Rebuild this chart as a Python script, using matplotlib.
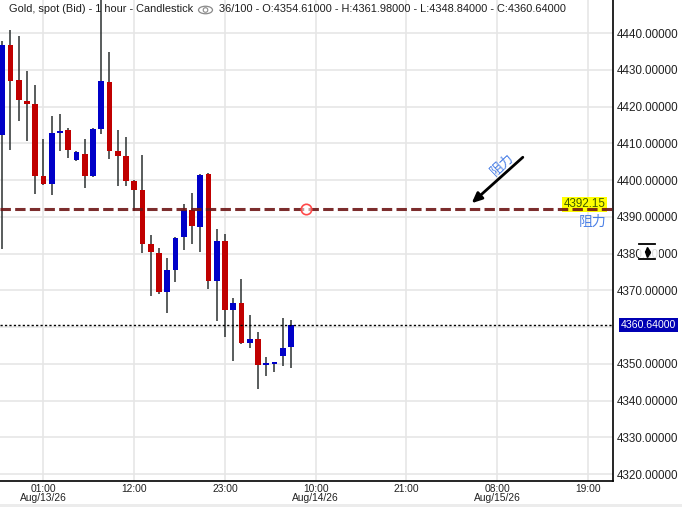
import matplotlib
matplotlib.use("Agg")
import matplotlib.pyplot as plt
import matplotlib.patches as mpatches
import matplotlib.transforms as mtransforms
import numpy as np

plt.rcParams['font.family'] = ['Liberation Sans', 'DejaVu Sans']

# ---- data (hourly candles, first = Aug 12 20:00) ----
opens  = [4412.3, 4436.7, 4427.2, 4421.5, 4420.7, 4401.1, 4399.0, 4412.8, 4413.6, 4405.5,
          4407.1, 4401.0, 4414.0, 4426.7, 4407.9, 4406.5, 4399.7, 4397.3, 4382.6, 4380.1,
          4369.6, 4375.6, 4384.5, 4391.8, 4387.3, 4401.6, 4372.6, 4383.4, 4364.7, 4366.5,
          4355.7, 4356.7, 4349.7, 4350.0, 4352.2, 4354.61]
highs  = [4437.8, 4440.8, 4439.2, 4429.7, 4425.8, 4411.2, 4417.4, 4418.0, 4414.1, 4407.8,
          4411.2, 4414.2, 4450.0, 4434.8, 4413.6, 4411.7, 4399.9, 4406.8, 4385.0, 4381.4,
          4378.8, 4384.5, 4393.5, 4396.5, 4401.6, 4401.9, 4386.7, 4385.3, 4367.9, 4373.0,
          4363.3, 4358.6, 4351.9, 4350.6, 4362.4, 4361.98]
lows   = [4381.3, 4408.2, 4416.1, 4410.7, 4396.2, 4398.7, 4396.0, 4408.0, 4406.1, 4405.3,
          4397.9, 4400.8, 4412.6, 4405.8, 4398.5, 4398.5, 4391.7, 4380.2, 4368.4, 4369.1,
          4363.9, 4372.3, 4380.9, 4382.6, 4380.5, 4370.4, 4361.7, 4357.4, 4350.8, 4355.5,
          4354.4, 4343.2, 4346.7, 4347.8, 4349.5, 4348.84]
closes = [4436.7, 4426.9, 4421.8, 4420.8, 4401.1, 4398.9, 4412.8, 4413.3, 4408.2, 4407.6,
          4401.2, 4414.0, 4426.9, 4408.0, 4406.6, 4399.8, 4397.4, 4382.7, 4380.5, 4369.6,
          4375.5, 4384.2, 4391.8, 4387.4, 4401.4, 4372.6, 4383.4, 4364.7, 4366.5, 4355.7,
          4356.7, 4349.7, 4350.0, 4350.3, 4354.3, 4360.64]

tick_hours  = [5, 16, 27, 38, 49, 60, 71]
tick_labels = ["01:00\nAug/13/26", "12:00", "23:00", "10:00\nAug/14/26",
               "21:00", "08:00\nAug/15/26", "19:00"]
y_ticks = [4320, 4330, 4340, 4350, 4360, 4370, 4380, 4390, 4400, 4410, 4420, 4430, 4440]

resistance = 4392.15
last_price = 4360.64
header_left = "Gold, spot (Bid) - 1 hour - Candlestick"
header_right = "36/100 - O:4354.61000 - H:4361.98000 - L:4348.84000 - C:4360.64000"
label_cn = "阻力"

W, H = 682, 507
fig = plt.figure(figsize=(W / 100, H / 100), dpi=100)
fig.patch.set_facecolor('white')
ax = fig.add_axes([0, (H - 481) / H, 613 / W, 481 / H])
ax.set_facecolor('white')

o = np.array(opens); hi = np.array(highs); lo = np.array(lows); c = np.array(closes)
x = np.arange(len(o))
up = c >= o
cols = np.where(up, '#0000c8', '#c00000')

ax.vlines(x, lo, hi, color='#2b3030', lw=1.1, zorder=2)
body_h = np.maximum(np.abs(c - o), 0.45)
ax.bar(x, body_h, bottom=np.minimum(o, c), width=0.68, color=cols, zorder=3, linewidth=0)

ax.set_xlim(-0.27, 74.03)
ax.set_ylim(4318.1, 4449.0)

ax.set_xticks(tick_hours)
ax.set_xticklabels(tick_labels, fontsize=7.4, color='#222222', linespacing=0.95)
ax.set_yticks(y_ticks)
# the 4360 label is hidden behind the current-price box in the reference
ax.set_yticklabels(["" if abs(v - last_price) < 5 else f"{v:.5f}" for v in y_ticks],
                   fontsize=8.4, color='#222222')
ax.yaxis.tick_right()
ax.tick_params(axis='both', length=0)
ax.tick_params(axis='y', pad=3)
ax.tick_params(axis='x', pad=2)
ax.grid(True, color='#e6e6e6', lw=1.2, zorder=0)
ax.set_axisbelow(True)
for s in ['left', 'top']:
    ax.spines[s].set_visible(False)
for s in ['right', 'bottom']:
    ax.spines[s].set_color('black')
    ax.spines[s].set_linewidth(1.2)

# resistance line
ax.axhline(resistance, color='#6e1616', lw=2.2, alpha=0.9,
           linestyle=(0, (3.4, 1.4)), zorder=5)
# current price dotted line
ax.axhline(last_price, color='black', lw=1.0, linestyle=(0, (1.6, 1.6)), zorder=5)

# small circle marker on resistance
ax.plot([36.8], [resistance], marker='o', ms=7.5, mec='#ff4a4a', mfc=(1, 1, 1, 0.55),
        mew=1.2, zorder=6)

# yellow price label
ax.text(70.6, resistance + 1.2, "4392.15", fontsize=8.4, color='#3f5a00',
        ha='center', va='center', zorder=4,
        bbox=dict(boxstyle='square,pad=0.14', fc='#ffff00', ec='none'))
ax.text(71.5, resistance - 3.4, label_cn, fontsize=10, color='#4b80e6',
        family=['Noto Sans CJK SC', 'DejaVu Sans'], ha='center', va='center', zorder=6)

# arrow with rotated label
ax.annotate('', xy=(56.9, 4393.7), xytext=(63.1, 4406.2),
            arrowprops=dict(arrowstyle='-|>,head_length=0.6,head_width=0.27',
                            color='black', lw=2.0, shrinkA=0, shrinkB=0), zorder=7)
ax.text(60.6, 4404.2, label_cn, fontsize=9.5, color='#4b80e6', rotation=43,
        family=['Noto Sans CJK SC', 'DejaVu Sans'], ha='center', va='center',
        rotation_mode='anchor', zorder=7)

# current price box on axis
trans = mtransforms.blended_transform_factory(ax.transAxes, ax.transData)
ax.text(1.0125, last_price, f"{last_price:.5f}", transform=trans, fontsize=7.6,
        color='white', ha='left', va='center', clip_on=False, zorder=10,
        bbox=dict(boxstyle='square,pad=0.18', fc='#0000b4', ec='none'))

# ---- overlay in pixel coordinates ----
ov = fig.add_axes([0, 0, 1, 1], zorder=20)
ov.set_xlim(0, W); ov.set_ylim(H, 0); ov.axis('off'); ov.patch.set_alpha(0)

ov.text(9, 9.5, header_left, fontsize=7.9, color='#1e1e1e', ha='left', va='center')
ov.text(219, 9.5, header_right, fontsize=7.9, color='#1e1e1e', ha='left', va='center')
ov.add_patch(mpatches.Ellipse((205.5, 10), 14, 7.5, fill=False, ec='#8a8a8a', lw=0.9))
ov.add_patch(mpatches.Circle((205.5, 10), 2.3, fill=False, ec='#8a8a8a', lw=0.8))

# widget over 4380 label
ov.add_patch(mpatches.Rectangle((638.5, 242), 20, 18, fc=(1, 1, 1, 0.85), ec='none'))
ov.plot([639, 655], [243.5, 243.5], color='black', lw=1.3)
ov.plot([639, 655], [258.5, 258.5], color='black', lw=1.3)
ov.plot([647], [248.5], marker='^', ms=3.6, color='black')
ov.plot([647], [253.5], marker='v', ms=3.6, color='black')

# bottom light band
ov.add_patch(mpatches.Rectangle((0, 503.5), W, 3.5, fc='#ececec', ec='none'))

fig.savefig('out.png', dpi=100)
